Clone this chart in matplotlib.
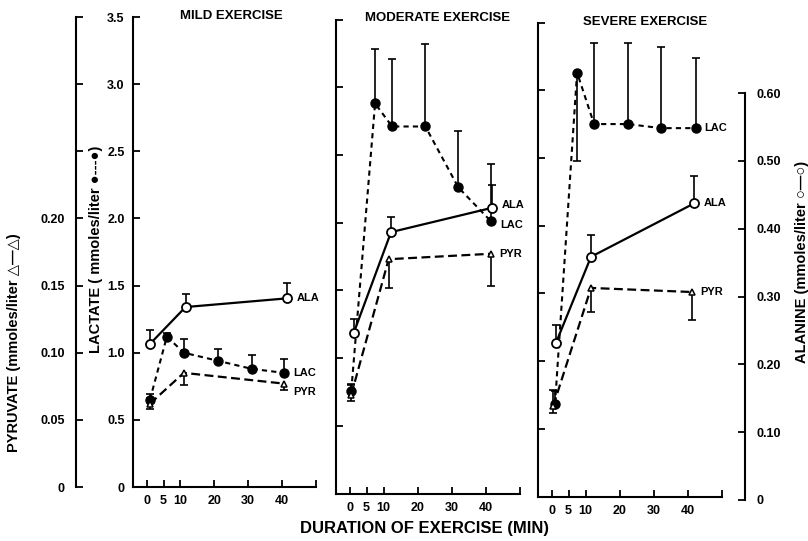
import numpy as np
import matplotlib
matplotlib.use("Agg")
import matplotlib.pyplot as plt

plt.rcParams['font.family'] = ['Liberation Sans', 'DejaVu Sans']
plt.rcParams['font.weight'] = 'bold'

# --- data (minutes, mmoles/liter) ---
# mild exercise
mild_lac_t = [1, 6, 11, 21, 31, 40.5]
mild_lac = [0.65, 1.12, 1.00, 0.94, 0.88, 0.85]
mild_lac_hi = [0.04, 0.03, 0.10, 0.09, 0.10, 0.10]
mild_lac_lo = [0, 0, 0, 0, 0, 0]
mild_ala_t = [1, 11.5, 41.5]
mild_ala = [0.213, 0.268, 0.281]
mild_ala_hi = [0.021, 0.020, 0.023]
mild_pyr_t = [1, 11, 40.5]
mild_pyr = [0.062, 0.085, 0.077]
mild_pyr_lo = [0.004, 0.009, 0.005]
mild_pyr_hi = [0.004, 0, 0]

# moderate exercise
mod_lac_t = [0.5, 7.5, 12.5, 22.3, 32, 41.6]
mod_lac = [0.76, 2.88, 2.71, 2.71, 2.26, 2.01]
mod_lac_hi = [0.05, 0.40, 0.50, 0.61, 0.42, 0.42]
mod_lac_lo = [0, 0, 0, 0, 0, 0]
mod_ala_t = [1.2, 12.2, 42]
mod_ala = [0.237, 0.386, 0.422]
mod_ala_hi = [0.021, 0.023, 0.033]
mod_pyr_t = [0.5, 11.5, 41.5]
mod_pyr = [0.073, 0.173, 0.177]
mod_pyr_lo = [0.005, 0.021, 0.024]
mod_pyr_hi = [0.007, 0, 0]

# severe exercise
sev_lac_t = [1, 7.5, 12.5, 22.4, 32.2, 42.4]
sev_lac = [0.68, 3.13, 2.75, 2.75, 2.72, 2.72]
sev_lac_hi = [0.10, 0, 0.60, 0.60, 0.60, 0.52]
sev_lac_lo = [0, 0.65, 0, 0, 0, 0]
sev_ala_t = [1.3, 11.6, 42]
sev_ala = [0.227, 0.354, 0.433]
sev_ala_hi = [0.026, 0.032, 0.041]
sev_pyr_t = [0.5, 11.6, 41.2]
sev_pyr = [0.067, 0.154, 0.151]
sev_pyr_lo = [0.005, 0.018, 0.021]
sev_pyr_hi = [0.012, 0, 0]

x_ticks = [0, 5, 10, 20, 30, 40, 50]
x_ticklabels = ['0', '5', '10', '20', '30', '40', '']
lac_ticks = [0, 0.5, 1.0, 1.5, 2.0, 2.5, 3.0, 3.5]
lac_ticklabels = ['0', '0.5', '1.0', '1.5', '2.0', '2.5', '3.0', '3.5']
pyr_ticks = [0, 0.05, 0.10, 0.15, 0.20, 0.25, 0.30, 0.35]
pyr_ticklabels = ['0', '0.05', '0.10', '0.15', '0.20', '', '', '']
ala_ticks = [0, 0.1, 0.2, 0.3, 0.4, 0.5, 0.6]
ala_ticklabels = ['0', '0.10', '0.20', '0.30', '0.40', '0.50', '0.60']

PYR_SCALE = 10   # pyruvate axis = lactate / 10
ALA_SCALE = 5    # alanine axis = lactate / 5

W, H = 808, 541
fig = plt.figure(figsize=(W / 100, H / 100), dpi=100)


def px_axes(x0, y0, x1, y1):
    return fig.add_axes([x0 / W, 1 - y1 / H, (x1 - x0) / W, (y1 - y0) / H])


def whiskers(ax, t, y, lo, hi):
    t, y = np.asarray(t, float), np.asarray(y, float)
    lo, hi = np.asarray(lo, float), np.asarray(hi, float)
    for ends, m in ((y + hi, hi > 0), (y - lo, lo > 0)):
        ax.vlines(t[m], y[m], ends[m], color='k', lw=1.2, zorder=1)
        ax.plot(t[m], ends[m], ls='none', marker='_', ms=6, mew=1.2,
                color='k', zorder=1)


def panel(box, title, title_xy, lac, ala, pyr, show_ylabels, label_dy):
    ax = px_axes(*box)
    ax.set_xlim(-4, 50)
    ax.set_ylim(0, 3.5)
    for s in ('top', 'right'):
        ax.spines[s].set_visible(False)
    for s in ('left', 'bottom'):
        ax.spines[s].set_linewidth(1.5)
    ax.set_xticks(x_ticks)
    ax.set_xticklabels(x_ticklabels)
    ax.set_yticks(lac_ticks)
    ax.set_yticklabels(lac_ticklabels if show_ylabels else [])
    ax.tick_params(direction='in', length=5, width=1.3, labelsize=9, pad=6)
    ax.patch.set_visible(False)

    t, v, lo, hi = lac
    whiskers(ax, t, v, lo, hi)
    ax.plot(t, v, color='k', lw=1.5, ls=(0, (2.5, 2)), marker='o', ms=6.5,
            mfc='k', mec='k', zorder=3)
    lac_end = (t[-1], v[-1])

    t, v, hi = ala
    v = np.asarray(v) * ALA_SCALE
    whiskers(ax, t, v, np.zeros(len(v)), np.asarray(hi) * ALA_SCALE)
    ax.plot(t, v, color='k', lw=1.6, ls='-', marker='o', ms=6.5,
            mfc='white', mec='k', mew=1.3, zorder=4)
    ala_end = (t[-1], v[-1])

    t, v, lo, hi = pyr
    v = np.asarray(v) * PYR_SCALE
    whiskers(ax, t, v, np.asarray(lo) * PYR_SCALE, np.asarray(hi) * PYR_SCALE)
    ax.plot(t, v, color='k', lw=1.6, ls=(0, (4, 2)), marker='^', ms=4.5,
            mfc='white', mec='k', mew=1.1, zorder=4)
    pyr_end = (t[-1], v[-1])

    for name, end in (('ALA', ala_end), ('LAC', lac_end), ('PYR', pyr_end)):
        ax.annotate(name, end, xytext=(6.5, label_dy[name]),
                    textcoords='offset points', ha='left', va='center',
                    fontsize=8, fontweight='bold')
    fig.text(title_xy[0] / W, 1 - title_xy[1] / H, title, ha='center',
             va='center', fontsize=9.5, fontweight='bold')
    return ax


panel((133, 17, 316, 487), 'MILD EXERCISE', (231, 16),
      (mild_lac_t, mild_lac, mild_lac_lo, mild_lac_hi),
      (mild_ala_t, mild_ala, mild_ala_hi),
      (mild_pyr_t, mild_pyr, mild_pyr_lo, mild_pyr_hi),
      True, {'ALA': 0, 'LAC': 0, 'PYR': -6})
panel((336, 19.5, 519.5, 493.5), 'MODERATE EXERCISE', (438, 18),
      (mod_lac_t, mod_lac, mod_lac_lo, mod_lac_hi),
      (mod_ala_t, mod_ala, mod_ala_hi),
      (mod_pyr_t, mod_pyr, mod_pyr_lo, mod_pyr_hi),
      False, {'ALA': 2, 'LAC': -3, 'PYR': 0})
panel((538, 22.5, 721.5, 496.5), 'SEVERE EXERCISE', (645, 22),
      (sev_lac_t, sev_lac, sev_lac_lo, sev_lac_hi),
      (sev_ala_t, sev_ala, sev_ala_hi),
      (sev_pyr_t, sev_pyr, sev_pyr_lo, sev_pyr_hi),
      False, {'ALA': 0, 'LAC': 0, 'PYR': 0})

# pyruvate axis (far left)
pax = px_axes(76, 17, 77, 487)
pax.set_ylim(0, 0.35)
pax.set_xticks([])
pax.set_yticks(pyr_ticks)
pax.set_yticklabels(pyr_ticklabels)
for s in ('top', 'right', 'bottom'):
    pax.spines[s].set_visible(False)
pax.spines['left'].set_linewidth(1.5)
pax.tick_params(direction='in', length=5, width=1.3, labelsize=9, pad=8)
pax.patch.set_visible(False)

# alanine axis (right)
aax = px_axes(744, 93, 745, 500)
aax.set_ylim(0, 0.6)
aax.set_xticks([])
aax.set_yticks(ala_ticks)
aax.set_yticklabels(ala_ticklabels)
aax.yaxis.tick_right()
for s in ('top', 'left', 'bottom'):
    aax.spines[s].set_visible(False)
aax.spines['right'].set_linewidth(1.5)
aax.tick_params(direction='in', length=5, width=1.3, labelsize=9, pad=8)
aax.patch.set_visible(False)

fig.text(14 / W, 1 - 343 / H, 'PYRUVATE (mmoles/liter △—△)', rotation=90,
         ha='center', va='center', fontsize=10.5, fontweight='bold')
fig.text(96 / W, 1 - 249 / H, 'LACTATE ( mmoles/liter ●---●)', rotation=90,
         ha='center', va='center', fontsize=10.5, fontweight='bold')
fig.text(802 / W, 1 - 262 / H, 'ALANINE (mmoles/liter ○—○)', rotation=90,
         ha='center', va='center', fontsize=10.5, fontweight='bold')
fig.text(425 / W, 1 - 528 / H, 'DURATION OF EXERCISE (MIN)',
         ha='center', va='center', fontsize=12, fontweight='bold')

fig.savefig('out.png', dpi=100, facecolor='white')
